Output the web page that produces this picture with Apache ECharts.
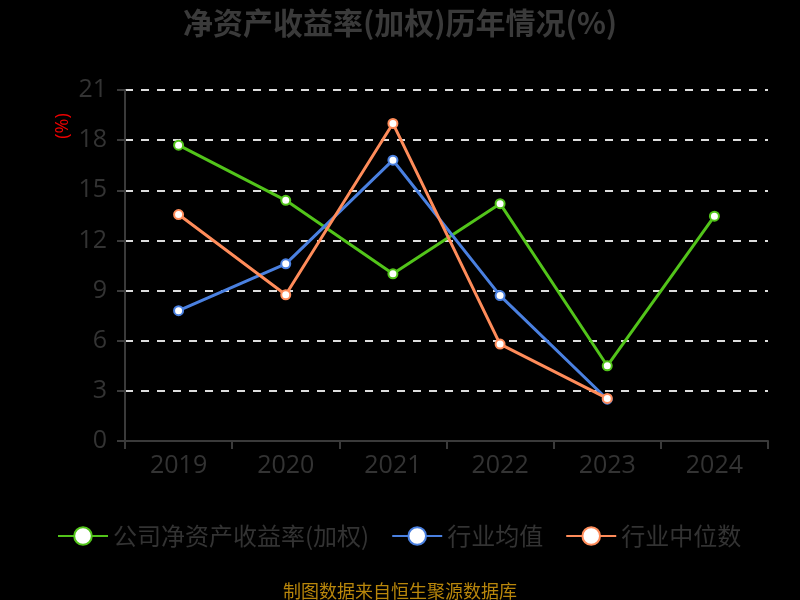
<!DOCTYPE html>
<html>
<head>
<meta charset="utf-8">
<script src="https://cdn.jsdelivr.net/npm/echarts@6/dist/echarts.min.js"></script>
<style>
  html, body { margin: 0; padding: 0; background: #000; }
  #main { width: 800px; height: 600px; }
</style>
</head>
<body>
<div id="main"></div>
<script>
// 年份
const years = ['2019', '2020', '2021', '2022', '2023', '2024'];
// 公司净资产收益率(加权)
const companyRoe = [17.7, 14.4, 10.0, 14.2, 4.5, 13.45];
// 行业均值
const industryAvg = [7.8, 10.6, 16.8, 8.7, 2.5];
// 行业中位数
const industryMedian = [13.55, 8.75, 19.0, 5.8, 2.55];
const seriesNames = ['公司净资产收益率(加权)', '行业均值', '行业中位数'];
const colorList = ['#52c41a', '#4a80e0', '#ff8c5a'];

const fontFamily = '"Open Sans", "Noto Sans CJK SC", sans-serif';
const cjkFont = '"Noto Sans CJK SC", sans-serif';

const makeSeries = (name, data, color) => ({
  name,
  type: 'line',
  data,
  symbol: 'circle',
  symbolSize: 9,
  itemStyle: { color: '#fff', borderColor: color, borderWidth: 2 },
  lineStyle: { color, width: 3 }
});

const chart = echarts.init(document.getElementById('main'));
chart.setOption({
  backgroundColor: '#000',
  textStyle: { fontFamily },
  title: {
    text: '净资产收益率(加权)历年情况(%)',
    left: 'center',
    top: 3,
    textStyle: { color: '#3a3a3a', fontSize: 30, fontWeight: 'bold', fontFamily: cjkFont }
  },
  legend: {
    bottom: 47,
    left: 52,
    itemWidth: 50,
    itemHeight: 22,
    itemGap: 22,
    textStyle: { color: '#333', fontSize: 24, fontFamily: cjkFont },
    data: seriesNames
  },
  graphic: [
    {
      type: 'text',
      x: 63,
      y: 126,
      rotation: Math.PI / 2,
      style: { text: '(%)', fill: '#e00', fontSize: 18, align: 'center', verticalAlign: 'middle', fontFamily }
    },
    {
      type: 'text',
      left: 'center',
      bottom: 0,
      style: { text: '制图数据来自恒生聚源数据库', fill: '#b8860b', fontSize: 18, fontFamily: cjkFont }
    }
  ],
  grid: { left: 125, right: 32, top: 90, bottom: 159 },
  xAxis: {
    type: 'category',
    data: years,
    axisLine: { lineStyle: { color: '#3a3a3a', width: 2 } },
    axisTick: { show: true, length: 8, lineStyle: { color: '#3a3a3a', width: 2 } },
    axisLabel: { color: '#333', fontSize: 25, margin: 12 }
  },
  yAxis: {
    type: 'value',
    min: 0,
    max: 21,
    interval: 3,
    axisLine: { show: true, lineStyle: { color: '#3a3a3a', width: 2 } },
    axisTick: { show: true, length: 8, lineStyle: { color: '#3a3a3a', width: 2 } },
    axisLabel: { color: '#333', fontSize: 25, margin: 18 },
    splitLine: { lineStyle: { color: '#ddd', type: [8, 8], width: 2 } }
  },
  series: [
    makeSeries(seriesNames[0], companyRoe, colorList[0]),
    makeSeries(seriesNames[1], industryAvg, colorList[1]),
    makeSeries(seriesNames[2], industryMedian, colorList[2])
  ]
});
</script>
</body>
</html>
